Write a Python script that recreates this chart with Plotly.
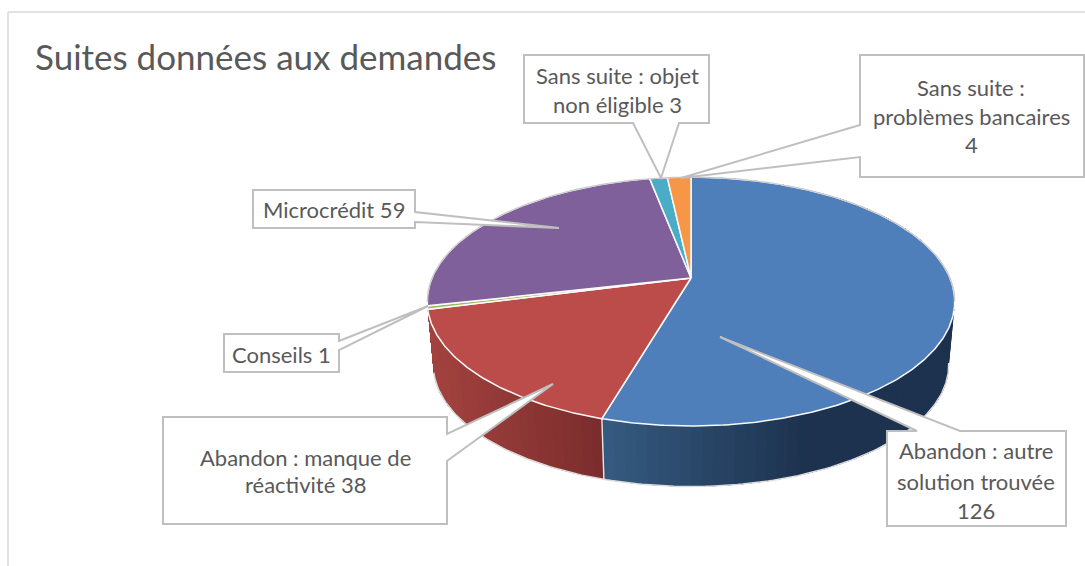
import numpy as np
import plotly.graph_objects as go

# ---- data ----
categories = ["Abandon : autre solution trouvée", "Abandon : manque de réactivité", "Conseils",
              "Microcrédit", "Sans suite : objet non éligible", "Sans suite : problèmes bancaires"]
values = [126, 38, 1, 59, 3, 4]
slice_colors = ["#4f7fbb", "#bc4c49", "#9bbb59", "#7f609b", "#4bacc6", "#f79646"]
title_text = "Suites données aux demandes"

# ---- label text, by line ----
label_lines = [["Abandon : autre", "solution trouvée", "126"],
               ["Abandon : manque de", "réactivité 38"],
               ["Conseils 1"],
               ["Microcrédit 59"],
               ["Sans suite : objet", "non éligible 3"],
               ["Sans suite :", "problèmes bancaires", "4"]]

# ---- layout: callout placement in page pixels ----
label_x = [976, 305, 281, 334, 617, 971]
label_y = [[450, 481, 510], [457, 484], [354], [209], [75, 104], [87, 116, 144]]
callouts = [
    dict(box=(887, 431, 1066, 526), ptr=[(960, 431), (720, 337), (917, 431)]),
    dict(box=(163, 417, 447, 524), ptr=[(447, 434), (553, 384), (447, 461)]),
    dict(box=(224, 334, 339, 372), ptr=[(339, 341), (428, 306), (339, 350)]),
    dict(box=(253, 190, 415, 228), ptr=[(415, 212), (559, 228), (415, 222)]),
    dict(box=(524, 55, 709, 123), ptr=[(633, 123), (661, 178), (679, 123)]),
    dict(box=(860, 55, 1084, 177), ptr=[(860, 125), (681, 178), (860, 157)]),
]

# ---- pie projection ----
CX, CY, A, B, K = 691.0, 278.0, 259.0, 120.0, 0.189
DEPTH, SHRINK = 64.0, 0.977


def project(deg, lower=False):
    t = np.radians(np.asarray(deg, dtype=float))
    X, Y = np.sin(t), np.cos(t)
    den = 1 + K * Y
    sx, sy = A * X / den, -B * Y / den
    if lower:
        return CX + SHRINK * sx, CY + DEPTH + SHRINK * sy
    return CX + sx, CY + sy


def lerp_hex(c1, c2, t):
    a = np.array([int(c1[i:i + 2], 16) for i in (1, 3, 5)])
    b = np.array([int(c2[i:i + 2], 16) for i in (1, 3, 5)])
    c = a + (b - a) * min(max(t, 0), 1)
    return "#%02x%02x%02x" % tuple(int(round(v)) for v in c)


total = sum(values)
edges = np.concatenate([[0], np.cumsum(values)]) / total * 360.0

fig = go.Figure()


def poly(xs, ys, fill, line=None, width=0.0):
    fig.add_trace(go.Scatter(x=list(xs), y=list(ys), mode="lines", fill="toself", fillcolor=fill,
                             line=dict(color=line or fill, width=width), hoverinfo="skip", showlegend=False))


def stroke(xs, ys, color, width):
    fig.add_trace(go.Scatter(x=list(xs), y=list(ys), mode="lines", line=dict(color=color, width=width),
                             hoverinfo="skip", showlegend=False))


# side wall with horizontal shading: each band paints from its start to the
# far end of the wall, and the next band paints over it, so no seams appear
wall_shades = [(0, "#35597f", "#1c324e", 604, 800, True), (1, "#a4433f", "#7b2d2d", 430, 604, False)]
for idx, left_c, right_c, x0, x1, left_to_right_is_reverse in wall_shades:
    a0, a1 = edges[idx], edges[idx + 1]
    steps = np.arange(a0, a1, 2.0)
    # paint from the outer far end of the angle range towards its start
    if left_to_right_is_reverse:
        steps = steps[::-1]
        bands = [(a0, s) for s in np.append(a1, steps)[1:]]
        bands = [(a0, s) for s in np.append(a1, steps[:-1])]
    else:
        bands = [(s, a1) for s in steps]
    for s0, s1 in bands:
        ta = np.linspace(s0, s1, max(3, int(s1 - s0) + 2))
        xt, yt = project(ta)
        xb, yb = project(ta[::-1], lower=True)
        xm = (xt[-1] + xb[0]) / 2 if left_to_right_is_reverse else (xt[0] + xb[-1]) / 2
        col = lerp_hex(left_c, right_c, (xm - x0) / (x1 - x0))
        poly(np.concatenate([xt, xb, xt[:1]]), np.concatenate([yt, yb, yt[:1]]), col)

# lower outline of the wall
arc = np.linspace(edges[0] + 100, edges[2], 160)
xl, yl = project(arc, lower=True)
stroke(xl, yl, "#dcdcdc", 1.5)

# seam between the two visible walls
xs0, ys0 = project([edges[1]])
xs1, ys1 = project([edges[1]], lower=True)
stroke([xs0[0], xs1[0]], [ys0[0], ys1[0]], "#e6e6e6", 1.4)

# top faces
for i, col in enumerate(slice_colors):
    ta = np.linspace(edges[i], edges[i + 1], max(4, int((edges[i + 1] - edges[i]) * 2)))
    xt, yt = project(ta)
    poly(np.concatenate([[CX], xt, [CX]]), np.concatenate([[CY], yt, [CY]]), col, line="#fafafa", width=1.5)

# grey back edge of the pie
back = np.linspace(-101, 101, 200)
xb, yb = project(back)
stroke(xb, yb, "#c8c8c8", 1.2)

# ---- callouts ----
shapes = [
    dict(type="line", x0=8, y0=12, x1=1085, y1=12, line=dict(color="#d9d9d9", width=1.5)),
    dict(type="line", x0=8, y0=12, x1=8, y1=566, line=dict(color="#d9d9d9", width=1.5)),
]
for c in callouts:
    x0, y0, x1, y1 = c["box"]
    rect = np.array([(x0, y0), (x1, y0), (x1, y1), (x0, y1)], dtype=float)
    pts = c["ptr"]
    px, py = pts[0]
    if px == x1:
        order = [rect[0], rect[1], *pts, rect[2], rect[3]]
    elif px == x0:
        order = [rect[0], rect[1], rect[2], rect[3], pts[2], pts[1], pts[0]]
    elif py == y0:
        order = [rect[0], pts[2], pts[1], pts[0], rect[1], rect[2], rect[3]]
    else:
        order = [rect[0], rect[1], rect[2], pts[2], pts[1], pts[0], rect[3]]
    path = "M " + " L ".join(f"{p[0]} {p[1]}" for p in order) + " Z"
    shapes.append(dict(type="path", path=path, fillcolor="white", line=dict(color="#bfbfbf", width=2)))

annotations = [dict(x=33, y=56, text=title_text, showarrow=False, xanchor="left", yanchor="middle",
                    font=dict(family="Lato", size=35, color="#595959"))]
for lines, lx, lys in zip(label_lines, label_x, label_y):
    for line, ly in zip(lines, lys):
        annotations.append(dict(x=lx, y=ly, text=line, showarrow=False, xanchor="center", yanchor="middle",
                                font=dict(family="Lato", size=22, color="#595959")))

fig.update_layout(
    width=1085, height=566, margin=dict(l=0, r=0, t=0, b=0),
    paper_bgcolor="white", plot_bgcolor="white", showlegend=False,
    xaxis=dict(range=[0, 1085], visible=False, fixedrange=True),
    yaxis=dict(range=[566, 0], visible=False, fixedrange=True),
    shapes=shapes, annotations=annotations,
)
fig.write_html("out.html", post_script="document.body.style.margin='0';document.body.style.overflow='hidden';",
               config=dict(displayModeBar=False))
